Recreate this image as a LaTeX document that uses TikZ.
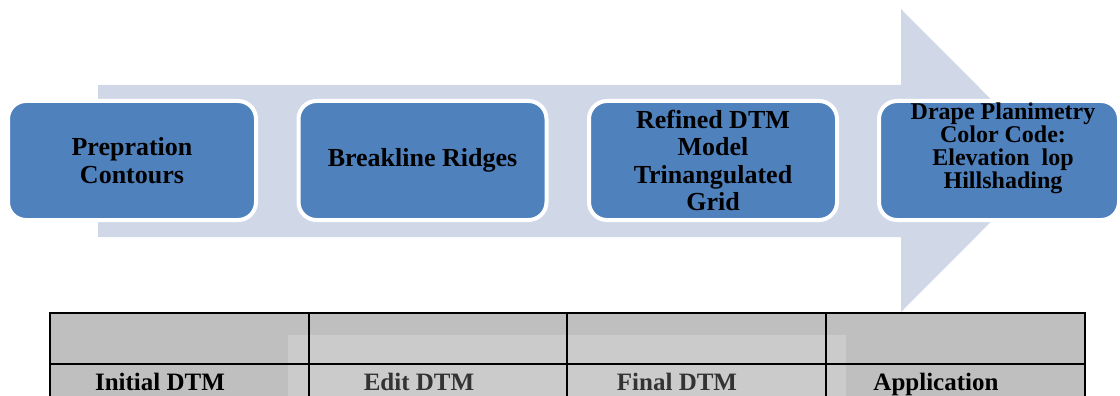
\documentclass[tikz,border=0pt]{standalone}
\usepackage{fontspec}
\setmainfont{Liberation Serif}
\usepackage{tikz}
\usetikzlibrary{positioning}

\definecolor{flowgray}{HTML}{D0D8E8}
\definecolor{boxblue}{HTML}{4F81BD}
\definecolor{tabgray}{HTML}{BFBFBF}

\begin{document}
\begin{tikzpicture}[x=1pt,y=-1pt,
  stepbox/.style={draw=white,line width=4pt,fill=boxblue,rounded corners=18pt,
    minimum width=248pt,minimum height=119pt,align=center,inner sep=0pt,
    font=\fontsize{26}{27.5}\selectfont\bfseries},
  celltext/.style={anchor=base,inner sep=0pt,font=\fontsize{25}{27}\selectfont\bfseries},
  grid/.style={line width=2pt,black}]
\useasboundingbox (0,0) rectangle (1120,396);
\clip (0,0) rectangle (1120,396);

% big arrow behind the steps
\fill[flowgray] (98,85) -- (901,85) -- (901,9) -- (1052,160.5) -- (901,312) -- (901,237) -- (98,237) -- cycle;

\node[stepbox] (prep) at (132,160.5) {Prepration\\Contours};
\node[stepbox] (brk) at (422.5,160.5) {Breakline Ridges};
\node[stepbox] (refd) at (713,160.5) {Refined DTM\\Model\\Trinangulated\\Grid};
\node[stepbox,minimum width=240pt] (drape) at (999,160.5) {};
\node[align=center,inner sep=0pt,font=\fontsize{24}{23}\selectfont\bfseries]
  (drapetxt) at (1003,148) {Drape Planimetry\\Color Code:\\Elevation~ lop\\Hillshading};

% table
\fill[tabgray] (50,313) rectangle (1085,400);
\node[celltext] (c1) at (160,390) {Initial DTM};
\node[celltext] (c2) at (419,390) {Edit DTM};
\node[celltext] (c3) at (677,390) {Final DTM};
\node[celltext] (c4) at (936,390) {Application};
\fill[white,opacity=0.2] (288,335) rectangle (846,400);

\draw[grid] (50,313) rectangle (1085,400);
\draw[grid] (50,364) -- (1085,364);
\foreach \x in {309,567,826}
  \draw[grid] (\x,313) -- (\x,400);

\end{tikzpicture}
\end{document}
